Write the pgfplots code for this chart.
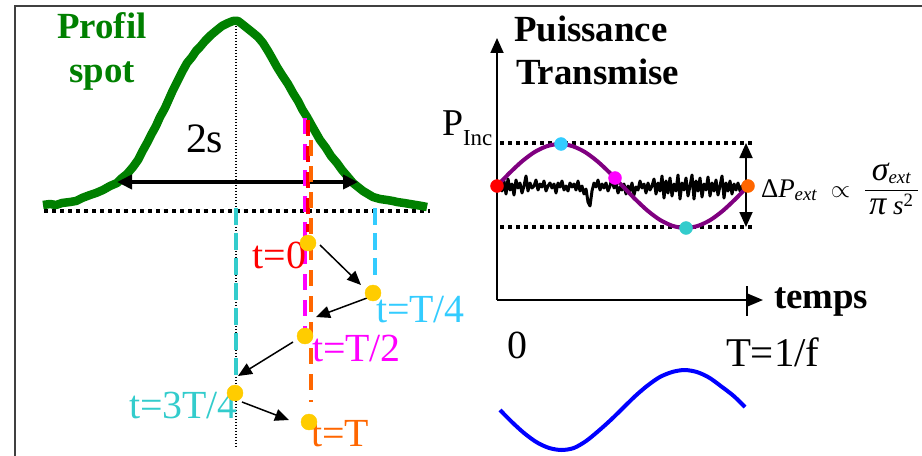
\documentclass[border=0pt]{standalone}
\usepackage{amsmath}
\usepackage{fontspec}
\setmainfont{Liberation Serif}
\usepackage{pgfplots}
\pgfplotsset{compat=1.18}
\usetikzlibrary{arrows.meta}
\definecolor{spotgreen}{HTML}{008000}
\definecolor{skyb}{HTML}{33CCFF}
\definecolor{turq}{HTML}{33CCCC}
\definecolor{orng}{HTML}{FF6600}
\definecolor{mag}{HTML}{FF00FF}
\definecolor{gold}{HTML}{FFCC00}
\definecolor{purp}{HTML}{800080}
\tikzset{lab/.style={inner sep=0pt, outer sep=0pt}}
\newcommand{\fs}[1]{\fontsize{#1}{#1}\selectfont}

\begin{document}
\begin{tikzpicture}
\begin{axis}[
    scale only axis,
    width=922bp, height=456bp,
    xmin=0, xmax=922, ymin=0, ymax=456,
    y dir=reverse,
    hide axis,
    clip=false,
]
% frame
\addplot[line width=2bp, black!75] coordinates {(15,456) (15,6) (922,6)};

% ---- left panel: spot profile
\addplot[line width=3.5bp, dash pattern=on 4bp off 4bp] coordinates {(44,211) (430,211)};
\addplot[line width=1.2bp, dash pattern=on 1.5bp off 1.5bp] coordinates {(236,17) (236,447)};
\addplot[line width=8.5bp, spotgreen, line join=round] coordinates {
(43,205) (50,204) (56,205) (62,203) (70,202) (76,201) (82,198) (90,195)
(96,193) (103,190) (110,186) (117,183) (122,178) (127,174) (133,167)
(138,160) (142,152) (147,143) (151,135) (156,126) (160,117) (165,108)
(169,99) (173,90) (178,80) (182,72) (187,63) (192,57) (196,51) (200,47)
(205,41) (211,35) (217,30) (222,26) (228,23) (233,21) (238,21) (242,24)
(247,28) (252,32) (258,37) (263,43) (268,51) (272,58) (277,67) (282,75)
(288,84) (293,93) (298,101) (302,109) (307,117) (312,126) (316,133)
(320,140) (326,148) (331,156) (337,163) (342,170) (348,177) (353,183)
(358,187) (363,191) (368,194) (373,197) (380,199) (387,200) (393,201)
(397,202) (404,203) (410,204) (416,205) (422,206) (427,207)};
\addplot[line width=4bp, {Triangle[length=15bp,width=14bp]}-{Triangle[length=15bp,width=14bp]}]
    coordinates {(117,182) (358,182)};

% dashed position markers
\addplot[line width=4bp, mag, dash pattern=on 16bp off 10bp] coordinates {(305,118) (305,330)};
\addplot[line width=4bp, red, dash pattern=on 16bp off 10bp] coordinates {(308,120) (308,232)};
\addplot[line width=4bp, orng, dash pattern=on 16bp off 10bp] coordinates {(311,140) (311,402)};
\addplot[line width=4bp, skyb, dash pattern=on 17bp off 8bp] coordinates {(375,208) (375,282)};
\addplot[line width=4bp, turq, dash pattern=on 17bp off 8bp] coordinates {(236,208) (236,375)};

% trajectory arrows
\addplot[line width=1.5bp, -{Triangle[length=14bp,width=12bp]}] coordinates {(320,245) (361,285)};
\addplot[line width=1.5bp, -{Triangle[length=14bp,width=12bp]}] coordinates {(367,298) (316,317)};
\addplot[line width=1.5bp, -{Triangle[length=14bp,width=12bp]}] coordinates {(293,342) (238,376)};
\addplot[line width=1.5bp, -{Triangle[length=14bp,width=12bp]}] coordinates {(242,402) (289,420)};

% spot positions
\addplot[only marks, mark=*, mark size=8bp, gold] coordinates {
(308,243) (373,293) (305,336) (235,393) (309,422)};

\node[lab, anchor=base, text=spotgreen, font=\fs{37}\bfseries] at (axis cs:102,39) {Profil};
\node[lab, anchor=base, text=spotgreen, font=\fs{37}\bfseries] at (axis cs:102,83) {spot};
\node[lab, anchor=base west, font=\fs{42}] at (axis cs:186,152) {2s};
\node[lab, anchor=base east, text=red, font=\fs{40}] at (axis cs:306,268) {t=0};
\node[lab, anchor=base west, text=skyb, font=\fs{40}] at (axis cs:376,322) {t=T/4};
\node[lab, anchor=base west, text=mag, font=\fs{40}] at (axis cs:312,361) {t=T/2};
\node[lab, anchor=base west, text=turq, font=\fs{40}] at (axis cs:129,418) {t=3T/4};
\node[lab, anchor=base west, text=orng, font=\fs{40}] at (axis cs:311,446) {t=T};

% ---- right panel: transmitted power
\addplot[line width=1.8bp, -{Triangle[length=15bp,width=13bp]}] coordinates {(497,300) (497,38)};
\addplot[line width=1.8bp, -{Triangle[length=16bp,width=13bp]}] coordinates {(497,300) (763,300)};
\addplot[line width=1.8bp] coordinates {(747,286) (747,316)};
\addplot[line width=3.5bp, dash pattern=on 4bp off 4bp] coordinates {(500,143) (752,143)};
\addplot[line width=3.5bp, dash pattern=on 4bp off 4bp] coordinates {(500,227) (752,227)};
\addplot[line width=1.8bp, {Triangle[length=15bp,width=13bp]}-{Triangle[length=15bp,width=13bp]}]
    coordinates {(746,143) (746,227)};

% noise
\addplot[line width=3bp, black, line join=round] coordinates {
(500,186) (502,191) (504,181) (506,194) (508,179) (510,190) (512,184) (514,195)
(516,180) (518,188) (520,183) (522,193) (524,186) (526,176) (528,191) (530,183)
(532,188) (534,186) (536,180) (538,190) (540,184) (542,187) (544,181) (546,191)
(548,186) (550,183) (552,188) (554,184) (556,193) (558,183) (560,187) (562,181)
(564,190) (566,186) (568,191) (570,183) (572,187) (574,184) (576,190) (578,181)
(580,191) (582,186) (584,194) (586,189) (588,202) (590,206) (592,191) (594,183)
(596,187) (598,180) (600,190) (602,184) (604,188) (606,183) (608,191) (610,186)
(612,178) (614,188) (616,183) (618,193) (620,187) (622,190) (624,184) (626,194)
(628,186) (630,191) (632,183) (634,195) (636,187) (638,190) (640,181) (642,188)
(644,184) (646,193) (648,183) (650,190) (652,186) (654,179) (656,194) (658,183)
(660,191) (662,176) (664,198) (666,181) (668,193) (670,178) (672,196) (674,184)
(676,191) (678,175) (680,199) (682,183) (684,190) (686,178) (688,196) (690,186)
(692,175) (694,199) (696,181) (698,191) (700,178) (702,197) (704,184) (706,190)
(708,177) (710,196) (712,183) (714,191) (716,180) (718,195) (720,186) (722,176)
(724,198) (726,183) (728,191) (730,181) (732,194) (734,184) (736,190) (738,183)
(740,191) (742,186) (744,188)};

% modulated transmitted power
\addplot[line width=4bp, purp, smooth] coordinates {
(497,186) (509.55,173) (522.1,161.3) (534.65,152) (547.2,146.1) (559.75,144)
(572.3,146.1) (584.85,152) (597.4,161.3) (609.95,173) (622.5,186) (635.05,199)
(647.6,210.7) (660.15,220) (672.7,225.9) (685.25,228) (697.8,225.9) (710.35,220)
(722.9,210.7) (735.45,199) (748,186)};
\addplot[only marks, mark=*, mark size=6.5bp, red] coordinates {(497,186)};
\addplot[only marks, mark=*, mark size=6.5bp, skyb] coordinates {(561,144)};
\addplot[only marks, mark=*, mark size=6.5bp, mag] coordinates {(615,178)};
\addplot[only marks, mark=*, mark size=6.5bp, turq] coordinates {(686,228)};
\addplot[only marks, mark=*, mark size=6.5bp, orng] coordinates {(748,186)};

% modulation signal
\addplot[line width=4bp, blue, smooth] coordinates {
(500,410) (512.3,422.4) (524.6,433.5) (536.9,442.4) (549.2,448) (561.5,450)
(573.8,448) (586.1,441) (598.4,431) (610.7,420) (623,408) (635.3,396)
(647.6,385.5) (659.9,377) (672.2,372) (684.5,370) (696.8,372) (709.1,377.6)
(721.4,386.5) (733.7,396) (745,407)};

\node[lab, anchor=base west, font=\fs{37}\bfseries] at (axis cs:514,42) {Puissance};
\node[lab, anchor=base west, font=\fs{37}\bfseries] at (axis cs:516,85) {Transmise};
\node[lab, anchor=base west, font=\fs{38}] at (axis cs:442,135) {P};
\node[lab, anchor=base west, font=\fs{23}] at (axis cs:463,145) {Inc};
\node[lab, anchor=base west, font=\fs{37}\bfseries] at (axis cs:774,308) {temps};
\node[lab, anchor=base west, font=\fs{40}] at (axis cs:507,358) {0};
\node[lab, anchor=base west, font=\fs{41}] at (axis cs:726,366) {T=1/f};
\node[lab, anchor=base west, font=\fs{27}] at (axis cs:761,197)
    {$\text{Δ}\textit{P}_{\textit{ext}}\;\propto\;
      \dfrac{\text{\fs{34}\itshape σ}_{\textit{ext}}}
            {\,\text{\fs{34}\itshape π}\;\textit{s}^{\text{2}}\,}$};
\end{axis}
\pgfresetboundingbox
\path[use as bounding box] (current axis.south west) rectangle (current axis.north east);
\end{tikzpicture}
\end{document}
